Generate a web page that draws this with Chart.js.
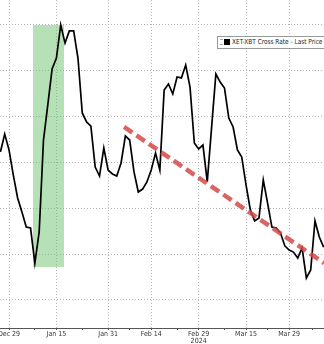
<!DOCTYPE html>
<html>
<head>
<meta charset="utf-8">
<script src="https://cdn.jsdelivr.net/npm/chart.js@4/dist/chart.umd.min.js"></script>
<style>
    body {
        margin: 0;
        background: #fff;
        overflow: hidden;
    }
    .wrap {
        position: relative;
        width: 324px;
        height: 344px;
        overflow: hidden;
    }
    .legend {
        position: absolute;
        left: 217px;
        top: 36px;
        width: 130px;
        height: 11px;
        border: 1px solid #999;
        background: #fff;
        font: 7px 'DejaVu Sans Condensed', sans-serif;
        color: #222;
        line-height: 11px;
        white-space: nowrap;
    }
    .legend .lines {
        display: inline-block;
        width: 3px;
        height: 4px;
        margin-left: 2px;
        border-top: 1px solid #aaa;
        border-bottom: 1px solid #aaa;
        vertical-align: middle;
    }
    .legend .box {
        display: inline-block;
        width: 6px;
        height: 6px;
        margin: 0 2px 0 1px;
        background: #000;
        vertical-align: middle;
    }
    .legend .txt {
        display: inline-block;
        transform: scaleX(0.92);
        transform-origin: left center;
    }
</style>
</head>
<body>
<div class="wrap">
    <canvas id="chart"></canvas>
    <div class="legend"><span class="lines"></span><span class="box"></span><span class="txt">XET-XBT Cross Rate - Last Price</span></div>
</div>
<script>
// weekday index 0 = Dec 29 2023, series starts two weekdays earlier
const startIndex = -2;
const rate = [
    0.05646, 0.05724, 0.05655, 0.05545, 0.05445, 0.05384, 0.05318, 0.05314,
    0.05161, 0.05297, 0.05698, 0.05851, 0.06008, 0.06056, 0.06200, 0.06121,
    0.06174, 0.06174, 0.06056, 0.05816, 0.05777, 0.05759, 0.05580, 0.05541,
    0.05663, 0.05567, 0.05550, 0.05541, 0.05598, 0.05716, 0.05698, 0.05559,
    0.05471, 0.05484, 0.05515, 0.05567, 0.05641, 0.05567, 0.05916, 0.05943,
    0.05899, 0.05973, 0.05969, 0.06025, 0.05929, 0.05685, 0.05659, 0.05676,
    0.05515, 0.05751, 0.05986, 0.05951, 0.05925, 0.05794, 0.05755, 0.05655,
    0.05624, 0.05502, 0.05393, 0.05345, 0.05358, 0.05524, 0.05423, 0.05318,
    0.05314, 0.05292, 0.05236, 0.05218, 0.05209, 0.05183, 0.05227, 0.05096,
    0.05131, 0.05345, 0.05275, 0.05231
];

// shaded rally window (x from/to, y top/bottom)
const boxX = [5.57, 12.76];
const boxY = [0.06200, 0.05144];

// dashed downtrend (x, y pairs)
const trendX = [26.7, 73.1];
const trendY = [0.05755, 0.05161];

const majorIdx = [0, 11, 23, 33, 44, 55, 65];
const majorLabels = ['Dec 29', 'Jan 15', 'Jan 31', 'Feb 14', ['Feb 29', '2024'], 'Mar 15', 'Mar 29'];
const minorIdx = [6, 17, 28, 39, 50, 60, 70.5];
const yGrid = [0.050, 0.052, 0.054, 0.056, 0.058, 0.060, 0.062];

const gridColor = '#b4b4b4';
const axisFont = { family: "'DejaVu Sans Condensed', sans-serif", size: 7, lineHeight: 1 };

new Chart(document.getElementById('chart'), {
    type: 'line',
    data: {
        datasets: [
            {
                data: trendX.map((x, i) => ({ x: x, y: trendY[i] })),
                borderColor: 'rgba(212, 72, 72, 0.85)',
                borderWidth: 4.5,
                borderDash: [10, 5],
                pointRadius: 0,
                fill: false,
                order: 0
            },
            {
                data: rate.map((v, i) => ({ x: startIndex + i, y: v })),
                borderColor: '#000',
                borderWidth: 1.7,
                pointRadius: 0,
                tension: 0,
                fill: false,
                order: 1
            },
            {
                data: boxX.map(x => ({ x: x, y: boxY[0] })),
                borderWidth: 0,
                borderColor: 'rgba(0,0,0,0)',
                backgroundColor: 'rgba(110, 195, 110, 0.5)',
                pointRadius: 0,
                fill: { value: boxY[1] },
                order: 2
            }
        ]
    },
    options: {
        responsive: true,
        maintainAspectRatio: false,
        animation: false,
        layout: { padding: 0 },
        plugins: {
            legend: { display: false },
            tooltip: { enabled: false }
        },
        scales: {
            x: {
                type: 'linear',
                min: -2.09,
                max: 73.09,
                afterBuildTicks: s => {
                    s.ticks = majorIdx.concat(minorIdx).sort((a, b) => a - b).map(v => ({ value: v }));
                },
                afterFit: s => {
                    s.height = 16;
                    s.paddingLeft = 0;
                    s.paddingRight = 0;
                },
                grid: {
                    color: c => (c.tick && majorIdx.includes(c.tick.value)) ? gridColor : 'rgba(0,0,0,0)',
                    tickColor: '#555',
                    tickLength: 2,
                    lineWidth: 1
                },
                border: { display: true, color: '#555', width: 1, dash: [1, 2] },
                ticks: {
                    autoSkip: false,
                    maxRotation: 0,
                    minRotation: 0,
                    padding: 1,
                    color: '#333',
                    font: axisFont,
                    callback: v => {
                        const i = majorIdx.indexOf(v);
                        return i >= 0 ? majorLabels[i] : '';
                    }
                }
            },
            y: {
                min: 0.048777,
                max: 0.063091,
                afterBuildTicks: s => {
                    s.ticks = yGrid.map(v => ({ value: v }));
                },
                afterFit: s => {
                    s.width = 0;
                    s.paddingTop = 0;
                    s.paddingBottom = 0;
                },
                grid: { color: gridColor, drawTicks: false, lineWidth: 1 },
                border: { display: false, dash: [1, 2] },
                ticks: { display: false }
            }
        }
    }
});
</script>
</body>
</html>
